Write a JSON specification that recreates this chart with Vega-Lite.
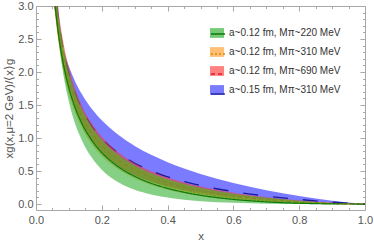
{
  "$schema": "https://vega.github.io/schema/vega-lite/v6.json",
  "width": 329,
  "height": 204,
  "padding": {"left": 3, "top": 0, "right": 0, "bottom": 0},
  "config": {
    "font": "Liberation Sans",
    "view": {"stroke": "#a8a8a8", "strokeWidth": 1},
    "axis": {"domain": false, "grid": false, "tickColor": "#a8a8a8", "labelColor": "#555555", "titleColor": "#555555", "labelFontSize": 11, "titleFontSize": 11.5, "titleFontWeight": "normal", "labelOverlap": false, "labelFlush": false, "labelBound": false}
  },
  "data": {"values": [
    {"s": "a~0.12 fm, Mπ~220 MeV", "x": 0.04, "lo": 4.355, "c": 4.218, "hi": 4.590},
    {"s": "a~0.12 fm, Mπ~220 MeV", "x": 0.05, "lo": 3.472, "c": 3.448, "hi": 3.780},
    {"s": "a~0.12 fm, Mπ~220 MeV", "x": 0.06, "lo": 2.866, "c": 2.911, "hi": 3.215},
    {"s": "a~0.12 fm, Mπ~220 MeV", "x": 0.07, "lo": 2.422, "c": 2.513, "hi": 2.797},
    {"s": "a~0.12 fm, Mπ~220 MeV", "x": 0.08, "lo": 2.060, "c": 2.206, "hi": 2.473},
    {"s": "a~0.12 fm, Mπ~220 MeV", "x": 0.10, "lo": 1.550, "c": 1.758, "hi": 2.002},
    {"s": "a~0.12 fm, Mπ~220 MeV", "x": 0.12, "lo": 1.200, "c": 1.446, "hi": 1.680},
    {"s": "a~0.12 fm, Mπ~220 MeV", "x": 0.14, "lo": 0.960, "c": 1.215, "hi": 1.440},
    {"s": "a~0.12 fm, Mπ~220 MeV", "x": 0.17, "lo": 0.700, "c": 0.962, "hi": 1.170},
    {"s": "a~0.12 fm, Mπ~220 MeV", "x": 0.20, "lo": 0.520, "c": 0.779, "hi": 0.975},
    {"s": "a~0.12 fm, Mπ~220 MeV", "x": 0.25, "lo": 0.330, "c": 0.566, "hi": 0.745},
    {"s": "a~0.12 fm, Mπ~220 MeV", "x": 0.30, "lo": 0.215, "c": 0.420, "hi": 0.585},
    {"s": "a~0.12 fm, Mπ~220 MeV", "x": 0.35, "lo": 0.145, "c": 0.315, "hi": 0.468},
    {"s": "a~0.12 fm, Mπ~220 MeV", "x": 0.40, "lo": 0.098, "c": 0.238, "hi": 0.377},
    {"s": "a~0.12 fm, Mπ~220 MeV", "x": 0.45, "lo": 0.066, "c": 0.179, "hi": 0.305},
    {"s": "a~0.12 fm, Mπ~220 MeV", "x": 0.50, "lo": 0.044, "c": 0.133, "hi": 0.246},
    {"s": "a~0.12 fm, Mπ~220 MeV", "x": 0.60, "lo": 0.018, "c": 0.0704, "hi": 0.158},
    {"s": "a~0.12 fm, Mπ~220 MeV", "x": 0.70, "lo": 0.0060, "c": 0.0331, "hi": 0.094},
    {"s": "a~0.12 fm, Mπ~220 MeV", "x": 0.80, "lo": 0.0014, "c": 0.0122, "hi": 0.049},
    {"s": "a~0.12 fm, Mπ~220 MeV", "x": 0.90, "lo": 0.0001, "c": 0.0024, "hi": 0.017},
    {"s": "a~0.12 fm, Mπ~220 MeV", "x": 1.00, "lo": 0, "c": 0, "hi": 0},
    {"s": "a~0.12 fm, Mπ~310 MeV", "x": 0.04, "lo": 4.020, "c": 4.270, "hi": 4.526},
    {"s": "a~0.12 fm, Mπ~310 MeV", "x": 0.05, "lo": 3.282, "c": 3.501, "hi": 3.723},
    {"s": "a~0.12 fm, Mπ~310 MeV", "x": 0.06, "lo": 2.769, "c": 2.966, "hi": 3.164},
    {"s": "a~0.12 fm, Mπ~310 MeV", "x": 0.07, "lo": 2.388, "c": 2.569, "hi": 2.749},
    {"s": "a~0.12 fm, Mπ~310 MeV", "x": 0.08, "lo": 2.094, "c": 2.262, "hi": 2.428},
    {"s": "a~0.12 fm, Mπ~310 MeV", "x": 0.10, "lo": 1.665, "c": 1.815, "hi": 1.961},
    {"s": "a~0.12 fm, Mπ~310 MeV", "x": 0.12, "lo": 1.367, "c": 1.503, "hi": 1.660},
    {"s": "a~0.12 fm, Mπ~310 MeV", "x": 0.14, "lo": 1.146, "c": 1.272, "hi": 1.420},
    {"s": "a~0.12 fm, Mπ~310 MeV", "x": 0.17, "lo": 0.904, "c": 1.018, "hi": 1.160},
    {"s": "a~0.12 fm, Mπ~310 MeV", "x": 0.20, "lo": 0.729, "c": 0.833, "hi": 0.965},
    {"s": "a~0.12 fm, Mπ~310 MeV", "x": 0.25, "lo": 0.526, "c": 0.617, "hi": 0.740},
    {"s": "a~0.12 fm, Mπ~310 MeV", "x": 0.30, "lo": 0.388, "c": 0.467, "hi": 0.580},
    {"s": "a~0.12 fm, Mπ~310 MeV", "x": 0.35, "lo": 0.289, "c": 0.359, "hi": 0.465},
    {"s": "a~0.12 fm, Mπ~310 MeV", "x": 0.40, "lo": 0.216, "c": 0.277, "hi": 0.375},
    {"s": "a~0.12 fm, Mπ~310 MeV", "x": 0.45, "lo": 0.161, "c": 0.214, "hi": 0.303},
    {"s": "a~0.12 fm, Mπ~310 MeV", "x": 0.50, "lo": 0.119, "c": 0.164, "hi": 0.245},
    {"s": "a~0.12 fm, Mπ~310 MeV", "x": 0.60, "lo": 0.0615, "c": 0.0927, "hi": 0.157},
    {"s": "a~0.12 fm, Mπ~310 MeV", "x": 0.70, "lo": 0.0281, "c": 0.0474, "hi": 0.093},
    {"s": "a~0.12 fm, Mπ~310 MeV", "x": 0.80, "lo": 0.0099, "c": 0.0197, "hi": 0.048},
    {"s": "a~0.12 fm, Mπ~310 MeV", "x": 0.90, "lo": 0.0018, "c": 0.0048, "hi": 0.017},
    {"s": "a~0.12 fm, Mπ~310 MeV", "x": 1.00, "lo": 0, "c": 0, "hi": 0},
    {"s": "a~0.12 fm, Mπ~690 MeV", "x": 0.04, "lo": 4.046, "c": 4.322, "hi": 4.675},
    {"s": "a~0.12 fm, Mπ~690 MeV", "x": 0.05, "lo": 3.317, "c": 3.556, "hi": 3.857},
    {"s": "a~0.12 fm, Mπ~690 MeV", "x": 0.06, "lo": 2.810, "c": 3.021, "hi": 3.288},
    {"s": "a~0.12 fm, Mπ~690 MeV", "x": 0.07, "lo": 2.434, "c": 2.625, "hi": 2.866},
    {"s": "a~0.12 fm, Mπ~690 MeV", "x": 0.08, "lo": 2.143, "c": 2.319, "hi": 2.540},
    {"s": "a~0.12 fm, Mπ~690 MeV", "x": 0.10, "lo": 1.719, "c": 1.873, "hi": 2.065},
    {"s": "a~0.12 fm, Mπ~690 MeV", "x": 0.12, "lo": 1.424, "c": 1.562, "hi": 1.733},
    {"s": "a~0.12 fm, Mπ~690 MeV", "x": 0.14, "lo": 1.205, "c": 1.331, "hi": 1.487},
    {"s": "a~0.12 fm, Mπ~690 MeV", "x": 0.17, "lo": 0.964, "c": 1.076, "hi": 1.216},
    {"s": "a~0.12 fm, Mπ~690 MeV", "x": 0.20, "lo": 0.789, "c": 0.891, "hi": 1.018},
    {"s": "a~0.12 fm, Mπ~690 MeV", "x": 0.25, "lo": 0.584, "c": 0.672, "hi": 0.783},
    {"s": "a~0.12 fm, Mπ~690 MeV", "x": 0.30, "lo": 0.443, "c": 0.520, "hi": 0.618},
    {"s": "a~0.12 fm, Mπ~690 MeV", "x": 0.35, "lo": 0.340, "c": 0.408, "hi": 0.497},
    {"s": "a~0.12 fm, Mπ~690 MeV", "x": 0.40, "lo": 0.262, "c": 0.323, "hi": 0.402},
    {"s": "a~0.12 fm, Mπ~690 MeV", "x": 0.45, "lo": 0.203, "c": 0.256, "hi": 0.327},
    {"s": "a~0.12 fm, Mπ~690 MeV", "x": 0.50, "lo": 0.155, "c": 0.202, "hi": 0.265},
    {"s": "a~0.12 fm, Mπ~690 MeV", "x": 0.60, "lo": 0.0878, "c": 0.122, "hi": 0.172},
    {"s": "a~0.12 fm, Mπ~690 MeV", "x": 0.70, "lo": 0.0449, "c": 0.0681, "hi": 0.104},
    {"s": "a~0.12 fm, Mπ~690 MeV", "x": 0.80, "lo": 0.0187, "c": 0.0320, "hi": 0.0554},
    {"s": "a~0.12 fm, Mπ~690 MeV", "x": 0.90, "lo": 0.0046, "c": 0.0096, "hi": 0.0205},
    {"s": "a~0.12 fm, Mπ~690 MeV", "x": 1.00, "lo": 0, "c": 0, "hi": 0},
    {"s": "a~0.15 fm, Mπ~310 MeV", "x": 0.04, "lo": 5.393, "c": 4.408, "hi": 3.603},
    {"s": "a~0.15 fm, Mπ~310 MeV", "x": 0.05, "lo": 4.187, "c": 3.644, "hi": 3.172},
    {"s": "a~0.15 fm, Mπ~310 MeV", "x": 0.06, "lo": 3.397, "c": 3.112, "hi": 2.851},
    {"s": "a~0.15 fm, Mπ~310 MeV", "x": 0.07, "lo": 2.842, "c": 2.719, "hi": 2.600},
    {"s": "a~0.15 fm, Mπ~310 MeV", "x": 0.08, "lo": 2.431, "c": 2.414, "hi": 2.397},
    {"s": "a~0.15 fm, Mπ~310 MeV", "x": 0.10, "lo": 1.864, "c": 1.970, "hi": 2.082},
    {"s": "a~0.15 fm, Mπ~310 MeV", "x": 0.12, "lo": 1.494, "c": 1.660, "hi": 1.846},
    {"s": "a~0.15 fm, Mπ~310 MeV", "x": 0.14, "lo": 1.233, "c": 1.430, "hi": 1.659},
    {"s": "a~0.15 fm, Mπ~310 MeV", "x": 0.17, "lo": 0.962, "c": 1.177, "hi": 1.440},
    {"s": "a~0.15 fm, Mπ~310 MeV", "x": 0.20, "lo": 0.776, "c": 0.992, "hi": 1.268},
    {"s": "a~0.15 fm, Mπ~310 MeV", "x": 0.25, "lo": 0.568, "c": 0.772, "hi": 1.048},
    {"s": "a~0.15 fm, Mπ~310 MeV", "x": 0.30, "lo": 0.433, "c": 0.617, "hi": 0.880},
    {"s": "a~0.15 fm, Mπ~310 MeV", "x": 0.35, "lo": 0.339, "c": 0.502, "hi": 0.745},
    {"s": "a~0.15 fm, Mπ~310 MeV", "x": 0.40, "lo": 0.269, "c": 0.413, "hi": 0.633},
    {"s": "a~0.15 fm, Mπ~310 MeV", "x": 0.45, "lo": 0.216, "c": 0.341, "hi": 0.538},
    {"s": "a~0.15 fm, Mπ~310 MeV", "x": 0.50, "lo": 0.174, "c": 0.281, "hi": 0.455},
    {"s": "a~0.15 fm, Mπ~310 MeV", "x": 0.60, "lo": 0.113, "c": 0.189, "hi": 0.319},
    {"s": "a~0.15 fm, Mπ~310 MeV", "x": 0.70, "lo": 0.0700, "c": 0.121, "hi": 0.210},
    {"s": "a~0.15 fm, Mπ~310 MeV", "x": 0.80, "lo": 0.0393, "c": 0.0692, "hi": 0.122},
    {"s": "a~0.15 fm, Mπ~310 MeV", "x": 0.90, "lo": 0.0165, "c": 0.0290, "hi": 0.0509},
    {"s": "a~0.15 fm, Mπ~310 MeV", "x": 1.00, "lo": 0, "c": 0, "hi": 0}
  ]},
  "resolve": {"axis": {"x": "independent", "y": "independent"}},
  "layer": [
    {
      "transform": [{"filter": {"field": "s", "equal": "a~0.15 fm, Mπ~310 MeV"}}],
      "mark": {"type": "area", "interpolate": "monotone", "clip": true, "opacity": 0.62},
      "encoding": {
        "x": {"field": "x", "type": "quantitative", "scale": {"domain": [0, 1], "nice": false},
          "axis": {"orient": "bottom", "title": "x", "titlePadding": 3,
            "values": [0,0.05,0.1,0.15,0.2,0.25,0.3,0.35,0.4,0.45,0.5,0.55,0.6,0.65,0.7,0.75,0.8,0.85,0.9,0.95,1],
            "labelExpr": "abs(datum.value*5-round(datum.value*5))<0.001 ? format(datum.value,'.1f') : ''",
            "tickSize": {"condition": {"test": "abs(datum.value*5-round(datum.value*5))<0.001", "value": -5}, "value": -2.5},
            "labelPadding": 9}},
        "y": {"field": "lo", "type": "quantitative", "scale": {"domain": [-0.09, 3], "nice": false, "zero": false},
          "axis": {"orient": "left", "title": "xg(x,μ=2 GeV)/⟨x⟩g", "titlePadding": 3,
            "values": [0,0.1,0.2,0.3,0.4,0.5,0.6,0.7,0.8,0.9,1,1.1,1.2,1.3,1.4,1.5,1.6,1.7,1.8,1.9,2,2.1,2.2,2.3,2.4,2.5,2.6,2.7,2.8,2.9,3],
            "labelExpr": "abs(datum.value*2-round(datum.value*2))<0.001 ? format(datum.value,'.1f') : ''",
            "tickSize": {"condition": {"test": "abs(datum.value*2-round(datum.value*2))<0.001", "value": -5}, "value": -2.5},
            "labelPadding": 8}},
        "y2": {"field": "hi"},
        "fill": {"field": "s", "type": "nominal", "scale": {"range": ["#22aa22", "#ff9a22", "#ff3333", "#2a2aff"]},
          "legend": {"orient": "none", "legendX": 174, "legendY": 20, "title": null, "padding": 0,
            "symbolType": "M-1,-0.7H1V0.7H-1Z", "symbolSize": 196, "symbolStrokeWidth": 0,
            "labelFontSize": 10, "labelColor": "#333333", "labelOffset": 5, "rowPadding": 7}}
      }
    },
    {
      "transform": [{"filter": {"field": "s", "equal": "a~0.15 fm, Mπ~310 MeV"}}],
      "mark": {"type": "line", "interpolate": "monotone", "clip": true, "strokeWidth": 1.4},
      "encoding": {
        "x": {"field": "x", "type": "quantitative", "axis": null},
        "y": {"field": "c", "type": "quantitative", "axis": null},
        "stroke": {"field": "s", "type": "nominal",
          "scale": {"domain": ["a~0.12 fm, Mπ~220 MeV", "a~0.12 fm, Mπ~310 MeV", "a~0.12 fm, Mπ~690 MeV", "a~0.15 fm, Mπ~310 MeV"], "range": ["#0a7a0a", "#dd8800", "#dd2020", "#1a1a9a"]},
          "legend": {"orient": "none", "legendX": 174, "legendY": 20, "title": null, "padding": 0,
            "symbolType": "stroke", "symbolSize": 196, "symbolStrokeWidth": 1.3,
            "labelFontSize": 10, "labelExpr": "''", "labelOffset": 5, "rowPadding": 7,
            "encode": {"symbols": {"update": {"strokeDash": {"signal": "indexof(datum.value,'220')>=0 ? [1,0] : indexof(datum.value,'0.15')>=0 ? [3,2] : indexof(datum.value,'690')>=0 ? [3,2] : [2,2]"}}}}}},
        "strokeDash": {"field": "s", "type": "nominal",
          "scale": {"domain": ["a~0.12 fm, Mπ~220 MeV", "a~0.12 fm, Mπ~310 MeV", "a~0.12 fm, Mπ~690 MeV", "a~0.15 fm, Mπ~310 MeV"], "range": [[1, 0], [2, 2], [4, 3], [15, 15]]},
          "legend": {"orient": "none", "legendX": 174, "legendY": 20, "title": null, "padding": 0,
            "symbolType": "stroke", "symbolSize": 196, "symbolStrokeWidth": 1.3,
            "labelFontSize": 10, "labelExpr": "''", "labelOffset": 5, "rowPadding": 7,
            "encode": {"symbols": {"update": {"strokeDash": {"signal": "indexof(datum.value,'220')>=0 ? [1,0] : indexof(datum.value,'0.15')>=0 ? [3,2] : indexof(datum.value,'690')>=0 ? [3,2] : [2,2]"}}}}}}
      }
    },
    {
      "transform": [{"filter": {"field": "s", "equal": "a~0.12 fm, Mπ~690 MeV"}}],
      "mark": {"type": "area", "interpolate": "monotone", "clip": true, "opacity": 0.55},
      "encoding": {
        "x": {"field": "x", "type": "quantitative",
          "axis": {"orient": "top", "title": null, "labels": false,
            "values": [0,0.05,0.1,0.15,0.2,0.25,0.3,0.35,0.4,0.45,0.5,0.55,0.6,0.65,0.7,0.75,0.8,0.85,0.9,0.95,1],
            "tickSize": {"condition": {"test": "abs(datum.value*5-round(datum.value*5))<0.001", "value": -5}, "value": -2.5}}},
        "y": {"field": "lo", "type": "quantitative",
          "axis": {"orient": "right", "title": null, "labels": false,
            "values": [0,0.1,0.2,0.3,0.4,0.5,0.6,0.7,0.8,0.9,1,1.1,1.2,1.3,1.4,1.5,1.6,1.7,1.8,1.9,2,2.1,2.2,2.3,2.4,2.5,2.6,2.7,2.8,2.9,3],
            "tickSize": {"condition": {"test": "abs(datum.value*2-round(datum.value*2))<0.001", "value": -5}, "value": -2.5}}},
        "y2": {"field": "hi"},
        "fill": {"field": "s", "type": "nominal", "scale": {"range": ["#22aa22", "#ff9a22", "#ff3333", "#2a2aff"]}}
      }
    },
    {
      "transform": [{"filter": {"field": "s", "equal": "a~0.12 fm, Mπ~690 MeV"}}],
      "mark": {"type": "line", "interpolate": "monotone", "clip": true, "strokeWidth": 1.2},
      "encoding": {
        "x": {"field": "x", "type": "quantitative", "axis": null},
        "y": {"field": "c", "type": "quantitative", "axis": null},
        "stroke": {"field": "s", "type": "nominal"},
        "strokeDash": {"field": "s", "type": "nominal"}
      }
    },
    {
      "transform": [{"filter": {"field": "s", "equal": "a~0.12 fm, Mπ~310 MeV"}}],
      "mark": {"type": "area", "interpolate": "monotone", "clip": true, "opacity": 0.55},
      "encoding": {
        "x": {"field": "x", "type": "quantitative", "axis": null},
        "y": {"field": "lo", "type": "quantitative", "axis": null},
        "y2": {"field": "hi"},
        "fill": {"field": "s", "type": "nominal", "scale": {"range": ["#22aa22", "#ff9a22", "#ff3333", "#2a2aff"]}}
      }
    },
    {
      "transform": [{"filter": {"field": "s", "equal": "a~0.12 fm, Mπ~310 MeV"}}],
      "mark": {"type": "line", "interpolate": "monotone", "clip": true, "strokeWidth": 1.2},
      "encoding": {
        "x": {"field": "x", "type": "quantitative", "axis": null},
        "y": {"field": "c", "type": "quantitative", "axis": null},
        "stroke": {"field": "s", "type": "nominal"},
        "strokeDash": {"field": "s", "type": "nominal"}
      }
    },
    {
      "transform": [{"filter": {"field": "s", "equal": "a~0.12 fm, Mπ~220 MeV"}}],
      "mark": {"type": "area", "interpolate": "monotone", "clip": true, "opacity": 0.55},
      "encoding": {
        "x": {"field": "x", "type": "quantitative", "axis": null},
        "y": {"field": "lo", "type": "quantitative", "axis": null},
        "y2": {"field": "hi"},
        "fill": {"field": "s", "type": "nominal", "scale": {"range": ["#22aa22", "#ff9a22", "#ff3333", "#2a2aff"]}}
      }
    },
    {
      "transform": [{"filter": {"field": "s", "equal": "a~0.12 fm, Mπ~220 MeV"}}],
      "mark": {"type": "line", "interpolate": "monotone", "clip": true, "strokeWidth": 1.2},
      "encoding": {
        "x": {"field": "x", "type": "quantitative", "axis": null},
        "y": {"field": "c", "type": "quantitative", "axis": null},
        "stroke": {"field": "s", "type": "nominal"},
        "strokeDash": {"field": "s", "type": "nominal"}
      }
    }
  ]
}
